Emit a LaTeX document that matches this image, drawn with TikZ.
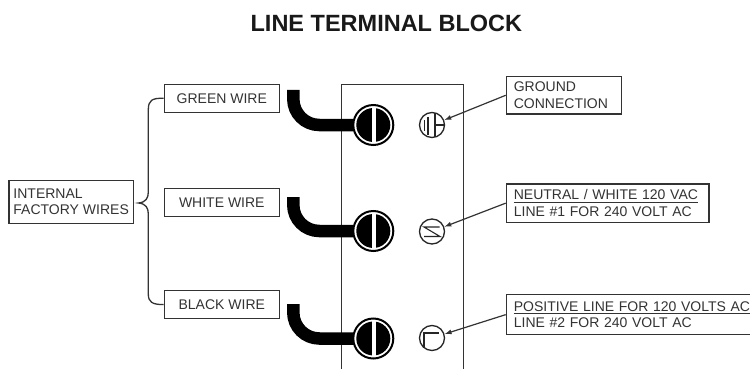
\documentclass[tikz,border=0pt]{standalone}
\usepackage{fontspec}
\setmainfont{Liberation Sans}
\usetikzlibrary{arrows.meta}
\definecolor{ink}{HTML}{333333}
\newcommand\ulline[1]{\setbox0=\hbox{#1}\rlap{\rule[-3.2pt]{\wd0}{1.2pt}}\box0}
\begin{document}
\begin{tikzpicture}[x=1pt,y=-1pt,
  lbl/.style={draw=ink, line width=1.3pt, text=ink, font=\fontsize{14}{16.5}\selectfont, inner sep=0pt, align=left},
  wirebox/.style={lbl, minimum width=115pt, minimum height=28pt},
  rbox/.style={lbl, anchor=north west, inner xsep=7.5pt},
  cable/.style={line width=12.5pt, black, line cap=butt, rounded corners=26pt},
  screw/.style={circle, draw=black, line width=2pt, fill=white, minimum size=40pt, inner sep=0pt,
    path picture={
      \fill[black] (path picture bounding box.center) circle (17pt);
      \fill[white] ([xshift=-1.8pt,yshift=-18pt]path picture bounding box.center) rectangle ([xshift=2.8pt,yshift=18pt]path picture bounding box.center);
    }},
  sym/.style={circle, draw=black!85, line width=1.3pt, minimum size=25pt, inner sep=0pt},
  symline/.style={draw=black!85, line width=1.1pt},
  arr/.style={draw=ink, line width=1.2pt, -{Latex[length=7pt,width=5pt]}},
  brace/.style={draw=ink, line width=1.3pt},
]
\useasboundingbox (0,0) rectangle (750,369);
\fill[white] (0,0) rectangle (750,369);
\clip (0,0) rectangle (750,369);

% title
\node[font=\fontsize{23.5}{28}\selectfont\bfseries, text=black!90] (title) at (386.4,23.7) {LINE TERMINAL BLOCK};

% terminal block
\node[draw=ink, line width=1.3pt, minimum width=122pt, minimum height=320pt, anchor=north west, inner sep=0pt] (tb) at (341,84) {};

% wire label boxes
\node[wirebox] (gw) at (221.8,98.2) {GREEN WIRE};
\node[wirebox] (ww) at (221.8,202.5) {WHITE WIRE};
\node[wirebox] (bw) at (221.8,304.6) {BLACK WIRE};

% internal factory wires
\node[lbl, anchor=north west, minimum width=124.4pt, minimum height=42.7pt] (ifw) at (8.3,180) {INTERNAL\\FACTORY WIRES};

% brace
\coordinate (tip) at (138.5,203);
\draw[brace] (gw.west) .. controls (152,98.2) and (148.3,100) .. (148.3,110) -- (148.3,192)
  .. controls (148.3,198) and (146,202.3) .. (tip)
  .. controls (146,203.7) and (148.3,208) .. (148.3,214) -- (148.3,294)
  .. controls (148.3,302) and (152,304.6) .. (bw.west);

% cables
\coordinate (w1) at (293.3,90);
\coordinate (w2) at (293.3,197);
\coordinate (w3) at (293.3,304);
\coordinate (c1) at (373.3,125);
\coordinate (c2) at (373.3,231);
\coordinate (c3) at (373.3,338.5);
\draw[cable] (w1) |- (c1);
\draw[cable] (w2) |- (c2);
\draw[cable] (w3) |- (c3);

% screws
\node[screw] (sc1) at (c1) {};
\node[screw] (sc2) at (c2) {};
\node[screw] (sc3) at (c3) {};

% small symbols
\node[sym] (s1) at (432,125) {};
\node[sym] (s2) at (432,231.5) {};
\node[sym] (s3) at (432,338) {};
\begin{scope}[shift={(432,125)}]
  \draw[symline] (-7.5,-5) -- (-7.5,6);
  \draw[symline] (-4,-8.5) -- (-4,9.5);
  \draw[symline] (3,-12.2) -- (3,12.2);
  \draw[symline] (3,0) -- (12.5,0);
\end{scope}
\begin{scope}[shift={(432,231.5)}]
  \draw[symline] (7.5,-4.5) -- (-8,-4.5) -- (8,5) -- (-8,5);
\end{scope}
\begin{scope}[shift={(432,338)}]
  \draw[symline] (-8,9.5) -- (-8,-5) -- (6.5,-5);
\end{scope}

% right labels
\node[rbox, text width=100.3pt, minimum height=37.3pt] (gc) at (505.7,76) {GROUND\\CONNECTION};
\node[rbox, text width=187.6pt, minimum height=38.4pt] (nw) at (505.7,183.3) {\ulline{NEUTRAL / WHITE 120 VAC}\\LINE \#1 FOR 240 VOLT AC};
\node[rbox, text width=249pt, minimum height=40pt] (pl) at (505.7,294) {\ulline{POSITIVE LINE FOR 120 VOLTS AC}\\LINE \#2 FOR 240 VOLT AC};

% arrows
\draw[arr] (gc.west) -- (s1);
\draw[arr] (nw.west) -- (s2);
\draw[arr] (pl.west) -- (s3);
\end{tikzpicture}
\end{document}
